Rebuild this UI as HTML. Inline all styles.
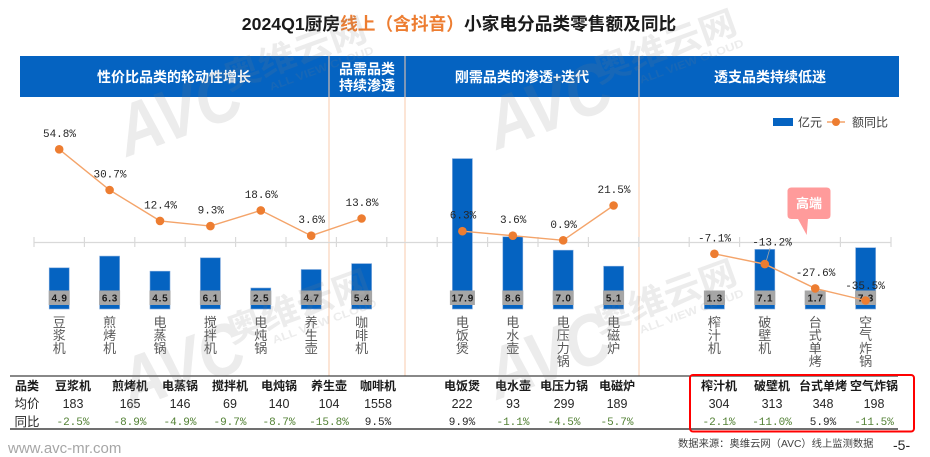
<!DOCTYPE html>
<html><head><meta charset="utf-8"><style>
html,body{margin:0;padding:0;background:#fff;}
svg{display:block;}
</style></head><body>
<svg width="930" height="457" viewBox="0 0 930 457" xmlns="http://www.w3.org/2000/svg" font-family="'Liberation Sans','Noto Sans CJK SC',sans-serif">
<rect width="930" height="457" fill="#fff"/>
<!-- title -->
<text x="459" y="30" text-anchor="middle" font-size="17.7" font-weight="bold" fill="#1a1a1a">2024Q1厨房<tspan fill="#ED7D31">线上（含抖音）</tspan>小家电分品类零售额及同比</text>
<!-- header band -->
<rect x="20" y="56" width="879" height="41" fill="#0563C1"/>
<g stroke="#F8CBAD" stroke-width="1">
<line x1="329" y1="56" x2="329" y2="376"/>
<line x1="405" y1="56" x2="405" y2="376"/>
<line x1="639" y1="56" x2="639" y2="376"/>
</g>
<g fill="#fff" font-size="14" font-weight="bold" text-anchor="middle">
<text x="174" y="82">性价比品类的轮动性增长</text>
<text x="367" y="74">品需品类</text>
<text x="367" y="90.5">持续渗透</text>
<text x="522" y="82">刚需品类的渗透+迭代</text>
<text x="770" y="82">透支品类持续低迷</text>
</g>
<!-- legend -->
<rect x="773" y="118" width="20" height="8" fill="#0563C1"/>
<text x="798" y="126.5" font-size="12" fill="#404040">亿元</text>
<line x1="827" y1="122" x2="845" y2="122" stroke="#F4A46A" stroke-width="1.5"/>
<circle cx="836" cy="122" r="4" fill="#ED7D31"/>
<text x="852" y="126.5" font-size="12" fill="#404040">额同比</text>
<!-- axis -->
<line x1="34" y1="242.5" x2="891" y2="242.5" stroke="#d9d9d9" stroke-width="1.2"/>
<g stroke="#d9d9d9" stroke-width="1.2">
<line x1="34" y1="237" x2="34" y2="247"/><line x1="84.4" y1="237" x2="84.4" y2="247"/><line x1="134.8" y1="237" x2="134.8" y2="247"/><line x1="185.2" y1="237" x2="185.2" y2="247"/><line x1="235.6" y1="237" x2="235.6" y2="247"/><line x1="286" y1="237" x2="286" y2="247"/><line x1="336.4" y1="237" x2="336.4" y2="247"/><line x1="386.8" y1="237" x2="386.8" y2="247"/><line x1="437.2" y1="237" x2="437.2" y2="247"/><line x1="487.6" y1="237" x2="487.6" y2="247"/><line x1="538" y1="237" x2="538" y2="247"/><line x1="588.4" y1="237" x2="588.4" y2="247"/><line x1="638.8" y1="237" x2="638.8" y2="247"/><line x1="689.2" y1="237" x2="689.2" y2="247"/><line x1="739.6" y1="237" x2="739.6" y2="247"/><line x1="790" y1="237" x2="790" y2="247"/><line x1="840.4" y1="237" x2="840.4" y2="247"/><line x1="891" y1="237" x2="891" y2="247"/>
</g>
<!-- bars -->
<g fill="#0563C1" stroke="#7fa9dd" stroke-width="0.6">
<rect x="49.2" y="267.8" width="20" height="41.2"/>
<rect x="99.6" y="256.1" width="20" height="52.9"/>
<rect x="150" y="271.2" width="20" height="37.8"/>
<rect x="200.4" y="257.8" width="20" height="51.2"/>
<rect x="250.8" y="288" width="20" height="21"/>
<rect x="301.2" y="269.5" width="20" height="39.5"/>
<rect x="351.6" y="263.6" width="20" height="45.4"/>
<rect x="452.4" y="158.6" width="20" height="150.4"/>
<rect x="502.8" y="236.8" width="20" height="72.2"/>
<rect x="553.2" y="250.2" width="20" height="58.8"/>
<rect x="603.6" y="266.2" width="20" height="42.8"/>
<rect x="704.4" y="298.1" width="20" height="10.9"/>
<rect x="754.8" y="249.4" width="20" height="59.6"/>
<rect x="805.2" y="294.7" width="20" height="14.3"/>
<rect x="855.6" y="247.7" width="20" height="61.3"/>
</g>
<!-- value boxes -->
<g fill="#a6a6a6">
<rect x="48.7" y="290.5" width="21" height="14.5"/>
<rect x="99.1" y="290.5" width="21" height="14.5"/>
<rect x="149.5" y="290.5" width="21" height="14.5"/>
<rect x="199.9" y="290.5" width="21" height="14.5"/>
<rect x="250.3" y="290.5" width="21" height="14.5"/>
<rect x="300.7" y="290.5" width="21" height="14.5"/>
<rect x="351.1" y="290.5" width="21" height="14.5"/>
<rect x="449.9" y="290.5" width="25" height="14.5"/>
<rect x="502.3" y="290.5" width="21" height="14.5"/>
<rect x="552.7" y="290.5" width="21" height="14.5"/>
<rect x="603.1" y="290.5" width="21" height="14.5"/>
<rect x="703.9" y="290.5" width="21" height="14.5"/>
<rect x="754.3" y="290.5" width="21" height="14.5"/>
<rect x="804.7" y="290.5" width="21" height="14.5"/>
<rect x="855.1" y="290.5" width="21" height="14.5"/>
</g>
<g fill="#1a1a1a" font-size="10" font-weight="bold" text-anchor="middle" letter-spacing="0.8">
<text x="59.6" y="301.5">4.9</text>
<text x="110" y="301.5">6.3</text>
<text x="160.4" y="301.5">4.5</text>
<text x="210.8" y="301.5">6.1</text>
<text x="261.2" y="301.5">2.5</text>
<text x="311.6" y="301.5">4.7</text>
<text x="362" y="301.5">5.4</text>
<text x="462.8" y="301.5">17.9</text>
<text x="513.2" y="301.5">8.6</text>
<text x="563.6" y="301.5">7.0</text>
<text x="614" y="301.5">5.1</text>
<text x="714.8" y="301.5">1.3</text>
<text x="765.2" y="301.5">7.1</text>
<text x="815.6" y="301.5">1.7</text>
<text x="866" y="301.5">7.3</text>
</g>
<!-- line series -->
<g fill="none" stroke="#F4A46A" stroke-width="1.4">
<polyline points="59.2,149.3 109.6,190 160,220.9 210.4,226.1 260.8,210.4 311.2,235.7 361.6,218.5"/>
<polyline points="462.4,231.2 512.8,235.7 563.2,240.3 613.6,205.5"/>
<polyline points="714.4,253.8 764.8,264.1 815.2,288.4 865.6,300.5"/>
</g>
<line x1="770" y1="248" x2="766" y2="262" stroke="#a6a6a6" stroke-width="0.8"/>
<g fill="#ED7D31">
<circle cx="59.2" cy="149.3" r="4.3"/><circle cx="109.6" cy="190" r="4.3"/><circle cx="160" cy="220.9" r="4.3"/><circle cx="210.4" cy="226.1" r="4.3"/><circle cx="260.8" cy="210.4" r="4.3"/><circle cx="311.2" cy="235.7" r="4.3"/><circle cx="361.6" cy="218.5" r="4.3"/>
<circle cx="462.4" cy="231.2" r="4.3"/><circle cx="512.8" cy="235.7" r="4.3"/><circle cx="563.2" cy="240.3" r="4.3"/><circle cx="613.6" cy="205.5" r="4.3"/>
<circle cx="714.4" cy="253.8" r="4.3"/><circle cx="764.8" cy="264.1" r="4.3"/><circle cx="815.2" cy="288.4" r="4.3"/><circle cx="865.6" cy="300.5" r="4.3"/>
</g>
<g fill="#262626" font-family="'Liberation Mono',monospace" font-size="11" text-anchor="middle">
<text x="59.5" y="137">54.8%</text>
<text x="110" y="177.5">30.7%</text>
<text x="160.5" y="208.5">12.4%</text>
<text x="210.8" y="213.5">9.3%</text>
<text x="261.2" y="198">18.6%</text>
<text x="311.6" y="223">3.6%</text>
<text x="362" y="206">13.8%</text>
<text x="463" y="218.5">6.3%</text>
<text x="513.2" y="223">3.6%</text>
<text x="563.6" y="228">0.9%</text>
<text x="614" y="193">21.5%</text>
<text x="714.5" y="241.5">-7.1%</text>
<text x="772" y="245.5">-13.2%</text>
<text x="815.5" y="276">-27.6%</text>
<text x="865" y="289">-35.5%</text>
</g>
<!-- callout -->
<path d="M791.5,187.5 H826.5 Q830.5,187.5 830.5,191.5 V215 Q830.5,219 826.5,219 H808 L806.7,235 L798,219 H791.5 Q787.5,219 787.5,215 V191.5 Q787.5,187.5 791.5,187.5 Z" fill="#FF9B9B"/>
<text x="809" y="208" text-anchor="middle" font-size="13" font-weight="bold" fill="#fff">高端</text>
<!-- category labels -->
<g fill="#595959" font-size="13" text-anchor="middle">
<text y="327"><tspan x="59.2">豆</tspan><tspan x="59.2" dy="13">浆</tspan><tspan x="59.2" dy="13">机</tspan></text>
<text y="327"><tspan x="109.6">煎</tspan><tspan x="109.6" dy="13">烤</tspan><tspan x="109.6" dy="13">机</tspan></text>
<text y="327"><tspan x="160">电</tspan><tspan x="160" dy="13">蒸</tspan><tspan x="160" dy="13">锅</tspan></text>
<text y="327"><tspan x="210.4">搅</tspan><tspan x="210.4" dy="13">拌</tspan><tspan x="210.4" dy="13">机</tspan></text>
<text y="327"><tspan x="260.8">电</tspan><tspan x="260.8" dy="13">炖</tspan><tspan x="260.8" dy="13">锅</tspan></text>
<text y="327"><tspan x="311.2">养</tspan><tspan x="311.2" dy="13">生</tspan><tspan x="311.2" dy="13">壶</tspan></text>
<text y="327"><tspan x="361.6">咖</tspan><tspan x="361.6" dy="13">啡</tspan><tspan x="361.6" dy="13">机</tspan></text>
<text y="327"><tspan x="462.4">电</tspan><tspan x="462.4" dy="13">饭</tspan><tspan x="462.4" dy="13">煲</tspan></text>
<text y="327"><tspan x="512.8">电</tspan><tspan x="512.8" dy="13">水</tspan><tspan x="512.8" dy="13">壶</tspan></text>
<text y="327"><tspan x="563.2">电</tspan><tspan x="563.2" dy="13">压</tspan><tspan x="563.2" dy="13">力</tspan><tspan x="563.2" dy="13">锅</tspan></text>
<text y="327"><tspan x="613.6">电</tspan><tspan x="613.6" dy="13">磁</tspan><tspan x="613.6" dy="13">炉</tspan></text>
<text y="327"><tspan x="714.4">榨</tspan><tspan x="714.4" dy="13">汁</tspan><tspan x="714.4" dy="13">机</tspan></text>
<text y="327"><tspan x="764.8">破</tspan><tspan x="764.8" dy="13">壁</tspan><tspan x="764.8" dy="13">机</tspan></text>
<text y="327"><tspan x="815.2">台</tspan><tspan x="815.2" dy="13">式</tspan><tspan x="815.2" dy="13">单</tspan><tspan x="815.2" dy="13">烤</tspan></text>
<text y="327"><tspan x="865.6">空</tspan><tspan x="865.6" dy="13">气</tspan><tspan x="865.6" dy="13">炸</tspan><tspan x="865.6" dy="13">锅</tspan></text>
</g>
<!-- table -->
<line x1="10" y1="376" x2="898" y2="376" stroke="#404040" stroke-width="1.3"/>
<line x1="10" y1="429" x2="898" y2="429" stroke="#404040" stroke-width="1.5"/>
<g fill="#1a1a1a" font-size="12" font-weight="bold" text-anchor="middle">
<text x="27" y="390">品类</text>
<text x="73" y="390">豆浆机</text>
<text x="130" y="390">煎烤机</text>
<text x="180" y="390">电蒸锅</text>
<text x="230" y="390">搅拌机</text>
<text x="279" y="390">电炖锅</text>
<text x="329" y="390">养生壶</text>
<text x="378" y="390">咖啡机</text>
<text x="462" y="390">电饭煲</text>
<text x="513" y="390">电水壶</text>
<text x="564" y="390">电压力锅</text>
<text x="617" y="390">电磁炉</text>
<text x="719" y="390">榨汁机</text>
<text x="772" y="390">破壁机</text>
<text x="823" y="390">台式单烤</text>
<text x="874" y="390">空气炸锅</text>
</g>
<g fill="#262626" font-size="12.5" text-anchor="middle">
<text x="27" y="408">均价</text>
<text x="73" y="408">183</text>
<text x="130" y="408">165</text>
<text x="180" y="408">146</text>
<text x="230" y="408">69</text>
<text x="279" y="408">140</text>
<text x="329" y="408">104</text>
<text x="378" y="408">1558</text>
<text x="462" y="408">222</text>
<text x="513" y="408">93</text>
<text x="564" y="408">299</text>
<text x="617" y="408">189</text>
<text x="719" y="408">304</text>
<text x="772" y="408">313</text>
<text x="823" y="408">348</text>
<text x="874" y="408">198</text>
<text x="27" y="426">同比</text>
</g>
<g font-family="'Liberation Mono',monospace" font-size="11" text-anchor="middle" fill="#538135">
<text x="73" y="425">-2.5%</text>
<text x="130" y="425">-8.9%</text>
<text x="180" y="425">-4.9%</text>
<text x="230" y="425">-9.7%</text>
<text x="279" y="425">-8.7%</text>
<text x="329" y="425">-15.8%</text>
<text x="378" y="425" fill="#262626">9.5%</text>
<text x="462" y="425" fill="#262626">9.9%</text>
<text x="513" y="425">-1.1%</text>
<text x="564" y="425">-4.5%</text>
<text x="617" y="425">-5.7%</text>
<text x="719" y="425">-2.1%</text>
<text x="772" y="425">-11.0%</text>
<text x="823" y="425" fill="#262626">5.9%</text>
<text x="874" y="425">-11.5%</text>
</g>
<rect x="690" y="375" width="224" height="56.5" rx="3" fill="none" stroke="#FF0000" stroke-width="2"/>
<!-- footer -->
<text x="8" y="453" font-size="15" fill="#a6a6a6">www.avc-mr.com</text>
<text x="678" y="447" font-size="10.3" fill="#404040">数据来源：奥维云网（AVC）线上监测数据</text>
<text x="893" y="450" font-size="14" fill="#262626">-5-</text>
<!-- watermarks -->
<g fill="#808080" opacity="0.15" font-weight="bold">
<g transform="translate(127,157) rotate(-20)">
<text x="0" y="0" font-size="72" font-style="italic" textLength="128" lengthAdjust="spacingAndGlyphs">AVC</text>
<text x="118" y="-28" font-size="34" textLength="150" lengthAdjust="spacingAndGlyphs">奥维云网</text>
<text x="158" y="-13" font-size="11" textLength="110" lengthAdjust="spacingAndGlyphs">ALL VIEW CLOUD</text>
</g>
<g transform="translate(497,150) rotate(-20)">
<text x="0" y="0" font-size="72" font-style="italic" textLength="128" lengthAdjust="spacingAndGlyphs">AVC</text>
<text x="118" y="-28" font-size="34" textLength="150" lengthAdjust="spacingAndGlyphs">奥维云网</text>
<text x="158" y="-13" font-size="11" textLength="110" lengthAdjust="spacingAndGlyphs">ALL VIEW CLOUD</text>
</g>
<g transform="translate(130,410) rotate(-20)">
<text x="0" y="0" font-size="72" font-style="italic" textLength="128" lengthAdjust="spacingAndGlyphs">AVC</text>
<text x="118" y="-28" font-size="34" textLength="150" lengthAdjust="spacingAndGlyphs">奥维云网</text>
<text x="158" y="-13" font-size="11" textLength="110" lengthAdjust="spacingAndGlyphs">ALL VIEW CLOUD</text>
</g>
<g transform="translate(497,400) rotate(-20)">
<text x="0" y="0" font-size="72" font-style="italic" textLength="128" lengthAdjust="spacingAndGlyphs">AVC</text>
<text x="118" y="-28" font-size="34" textLength="150" lengthAdjust="spacingAndGlyphs">奥维云网</text>
<text x="158" y="-13" font-size="11" textLength="110" lengthAdjust="spacingAndGlyphs">ALL VIEW CLOUD</text>
</g>
</g>
</svg>
</body></html>
